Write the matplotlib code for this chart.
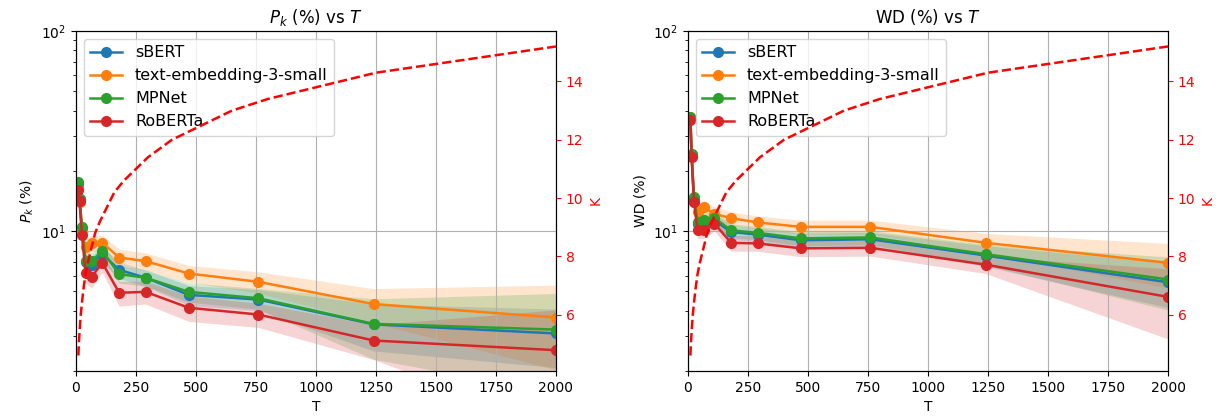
import matplotlib
matplotlib.use('Agg')
import matplotlib.pyplot as plt
import numpy as np

# T values (shared by both panels)
T = [10, 15, 25, 40, 65, 110, 180, 290, 470, 760, 1240, 2000]
models = ['sBERT', 'text-embedding-3-small', 'MPNet', 'RoBERTa']
colors = ['tab:blue', 'tab:orange', 'tab:green', 'tab:red']

# P_k (%) mean and std
pk_sbert = [17.0, 14.5, 10.3, 7.0, 6.8, 7.7, 6.4, 5.85, 4.8, 4.55, 3.42, 3.08]
pk_te3 = [16.5, 14.0, 10.0, 8.3, 8.7, 8.75, 7.38, 7.08, 6.14, 5.58, 4.32, 3.70]
pk_mpnet = [17.5, 14.5, 10.5, 7.1, 7.1, 7.95, 6.1, 5.85, 4.97, 4.62, 3.44, 3.22]
pk_roberta = [16.0, 14.1, 9.55, 6.2, 5.9, 6.94, 4.92, 4.97, 4.14, 3.83, 2.84, 2.54]
pk_sbert_sd = [1.0, 1.0, 0.9, 0.7, 0.7, 0.7, 0.6, 0.55, 0.55, 0.55, 0.9, 1.0]
pk_te3_sd = [1.0, 1.0, 0.9, 0.8, 0.8, 0.8, 0.75, 0.7, 0.6, 0.68, 0.84, 1.67]
pk_mpnet_sd = [1.0, 1.0, 0.9, 0.7, 0.7, 0.7, 0.6, 0.55, 0.55, 0.55, 1.15, 1.66]
pk_roberta_sd = [1.0, 1.0, 0.9, 0.7, 0.7, 0.7, 0.7, 0.65, 0.6, 0.53, 0.56, 1.5]

# WD (%) mean and std
wd_sbert = [36.5, 24.0, 14.5, 10.8, 11.0, 11.3, 9.9, 9.6, 9.0, 9.1, 7.55, 5.55]
wd_te3 = [37.0, 24.0, 14.0, 12.5, 13.2, 12.2, 11.6, 11.05, 10.5, 10.5, 8.74, 6.94]
wd_mpnet = [37.3, 24.2, 14.8, 11.05, 11.35, 11.6, 10.1, 9.8, 9.2, 9.3, 7.67, 5.73]
wd_roberta = [35.9, 23.5, 14.0, 10.1, 10.1, 10.9, 8.74, 8.68, 8.2, 8.25, 6.8, 4.69]
wd_sbert_sd = [3.0, 2.0, 1.2, 0.9, 0.9, 0.9, 0.8, 0.75, 0.75, 0.75, 0.9, 1.4]
wd_te3_sd = [3.0, 2.0, 1.2, 1.0, 1.0, 1.0, 0.9, 0.85, 0.85, 0.85, 1.0, 1.74]
wd_mpnet_sd = [3.0, 2.0, 1.2, 0.9, 0.9, 0.9, 0.8, 0.75, 0.75, 0.75, 0.9, 1.7]
wd_roberta_sd = [3.0, 2.0, 1.2, 0.9, 0.9, 0.9, 0.8, 0.75, 0.75, 0.75, 0.66, 1.8]

# K vs T (red dashed, right axis)
T_k = [10, 12, 15, 20, 25, 30, 40, 50, 65, 80, 100, 130, 160, 200, 250, 300,
       400, 500, 650, 800, 1000, 1250, 1500, 1750, 2000]
K = [4.6, 5.0, 5.4, 6.0, 6.4, 6.8, 7.4, 7.8, 8.3, 8.8, 9.2, 9.7, 10.2, 10.6, 11.0,
     11.4, 12.0, 12.4, 13.0, 13.4, 13.8, 14.3, 14.6, 14.9, 15.2]

panels = [
    ([pk_sbert, pk_te3, pk_mpnet, pk_roberta],
     [pk_sbert_sd, pk_te3_sd, pk_mpnet_sd, pk_roberta_sd],
     '$P_k$ (%) vs $T$', '$P_k$ (%)'),
    ([wd_sbert, wd_te3, wd_mpnet, wd_roberta],
     [wd_sbert_sd, wd_te3_sd, wd_mpnet_sd, wd_roberta_sd],
     'WD (%) vs $T$', 'WD (%)'),
]

fig, axes = plt.subplots(1, 2, figsize=(12.25, 4.19), dpi=100)
plt.subplots_adjust(left=0.062, right=0.9535, top=0.926, bottom=0.1146, wspace=0.275)

for ax, (means, sds, title, ylab) in zip(axes, panels):
    for name, m, s, c in zip(models, means, sds, colors):
        m = np.array(m)
        s = np.array(s)
        ax.plot(T, m, marker='o', color=c, label=name, linewidth=1.8, markersize=7)
        ax.fill_between(T, m - s, m + s, color=c, alpha=0.2, linewidth=0)
    ax.set_yscale('log')
    ax.set_ylim(2, 100)
    ax.set_xlim(0, 2000)
    ax.set_xlabel('T')
    ax.set_ylabel(ylab)
    ax.set_title(title)
    ax.grid(True)
    ax.legend(loc='upper left', fontsize=11.5)

    ax2 = ax.twinx()
    ax2.plot(T_k, K, 'r--', linewidth=1.8)
    ax2.set_ylabel('K', color='red')
    ax2.tick_params(axis='y', colors='red')

plt.savefig('out.png', dpi=100)
